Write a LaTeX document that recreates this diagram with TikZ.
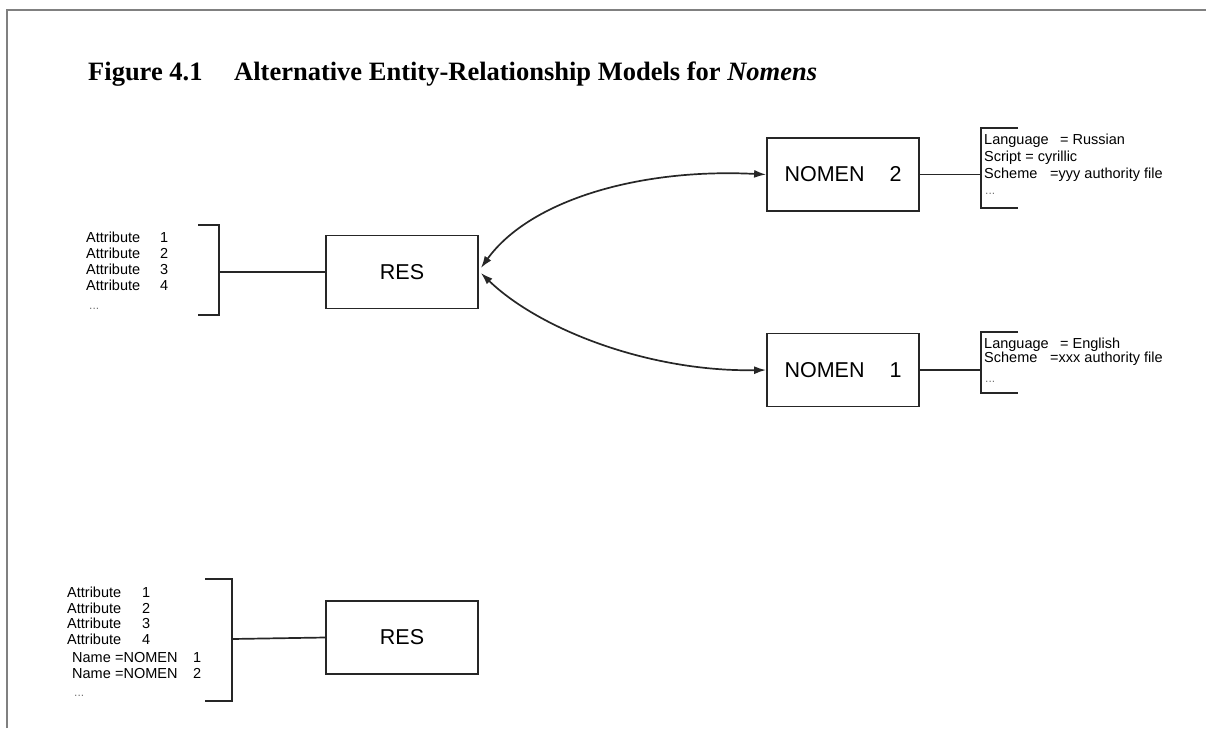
\documentclass[tikz,border=0pt]{standalone}
\usepackage{fontspec}
\setmainfont{Liberation Serif}
\setsansfont{Liberation Sans}
\usetikzlibrary{arrows.meta}
\begin{document}
\begin{tikzpicture}[x=1pt,y=-1pt,
  ent/.style={draw=black!85, line width=1.8pt, minimum width=152pt, minimum height=73pt, inner sep=0pt, font=\sffamily\fontsize{21.5}{24}\selectfont},
  attr/.style={anchor=base west, inner sep=0pt, font=\sffamily\fontsize{14.5}{16}\selectfont},
  dots/.style={anchor=base west, inner sep=0pt, text=black!55, font=\sffamily\fontsize{12}{12}\selectfont},
  brk/.style={draw=black!85, line width=1.8pt},
  link/.style={draw=black!85, line width=1.7pt},
  rel/.style={draw=black!85, line width=1.7pt, {Latex[length=12pt,width=8pt]}-{Latex[length=12pt,width=8pt]}},
  ttl/.style={anchor=base west, inner sep=0pt, font=\fontsize{26.5}{30}\selectfont\bfseries}
]
\useasboundingbox (0,0) rectangle (1206,728);
\draw[gray, line width=1.2pt] (7,728) -- (7,10) -- (1206,10);

% title
\node[ttl] (fig) at (88,80) {Figure 4.1};
\node[ttl] (title) at (234,80) {Alternative Entity-Relationship Models for \textit{Nomens}};

% entities
\node[ent] (res1) at (402,272) {RES};
\node[ent] (nom2) at (843,174.5) {\makebox[105pt][l]{NOMEN}2};
\node[ent] (nom1) at (843,370) {\makebox[105pt][l]{NOMEN}1};
\node[ent] (res2) at (402,637.5) {RES};

% top RES attributes
\node[attr] (a1) at (86,242) {\makebox[74pt][l]{Attribute}1};
\node[attr] (a2) at (86,258) {\makebox[74pt][l]{Attribute}2};
\node[attr] (a3) at (86,274) {\makebox[74pt][l]{Attribute}3};
\node[attr] (a4) at (86,290) {\makebox[74pt][l]{Attribute}4};
\node[dots] (a5) at (89,309) {...};
\coordinate (b1) at (219,272);
\draw[brk] (198,225) -- (219,225) -- (219,315) -- (198,315);
\draw[link] (b1) -- (res1.west);

% NOMEN 2 attributes
\node[attr] (r1) at (984,144) {\makebox[76pt][l]{Language}= Russian};
\node[attr] (r2) at (984,161) {Script = cyrillic};
\node[attr] (r3) at (984,178) {\makebox[66pt][l]{Scheme}=yyy authority file};
\node[dots] (r4) at (985,194) {...};
\coordinate (b2) at (981,174.5);
\draw[brk] (1018,128) -- (981,128) -- (981,208) -- (1018,208);
\draw[link] (nom2.east) -- (b2);

% NOMEN 1 attributes
\node[attr] (e1) at (984,348) {\makebox[76pt][l]{Language}= English};
\node[attr] (e2) at (984,362) {\makebox[66pt][l]{Scheme}=xxx authority file};
\node[dots] (e3) at (985,382) {...};
\coordinate (b3) at (981,370);
\draw[brk] (1018,332) -- (981,332) -- (981,393) -- (1018,393);
\draw[link] (nom1.east) -- (b3);

% relationships
\draw[rel] ([xshift=2pt,yshift=4pt]res1.east) .. controls (530,200) and (640,168) .. (nom2.west);
\draw[rel] ([xshift=2pt,yshift=-1pt]res1.east) .. controls (540,330) and (650,372) .. (nom1.west);

% bottom RES attributes
\node[attr] (n1) at (67,597) {\makebox[75pt][l]{Attribute}1};
\node[attr] (n2) at (67,613) {\makebox[75pt][l]{Attribute}2};
\node[attr] (n3) at (67,628) {\makebox[75pt][l]{Attribute}3};
\node[attr] (n4) at (67,644) {\makebox[75pt][l]{Attribute}4};
\node[attr] (n5) at (72,662) {\makebox[43pt][l]{Name}\makebox[78pt][l]{=NOMEN}1};
\node[attr] (n6) at (72,678) {\makebox[43pt][l]{Name}\makebox[78pt][l]{=NOMEN}2};
\node[dots] (n7) at (74,696) {...};
\coordinate (b4) at (232,639);
\draw[brk] (205,579) -- (232,579) -- (232,701) -- (205,701);
\draw[link] (b4) -- (res2.west);
\end{tikzpicture}
\end{document}
